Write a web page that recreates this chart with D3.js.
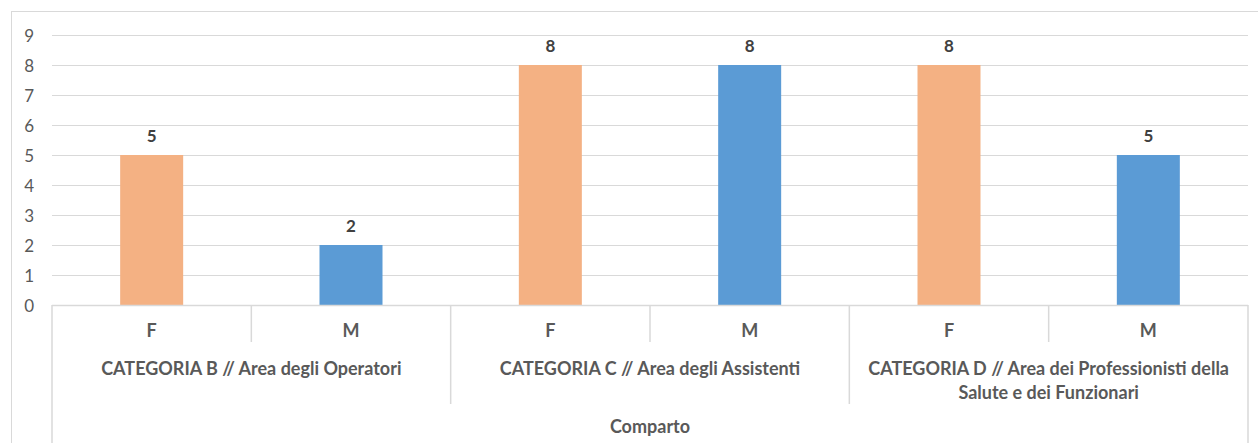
<!DOCTYPE html>
<html>
<head>
<meta charset="utf-8">
<script src="https://cdn.jsdelivr.net/npm/d3@7"></script>
<style>
  html, body { margin: 0; padding: 0; background: #fff; }
  svg { display: block; }
  text { font-family: Lato, "Open Sans", "Liberation Sans", sans-serif; }
</style>
</head>
<body>
<svg id="chart" width="1258" height="443"></svg>
<script>
// Personale del Comparto per categoria e genere
const groups = [
  ["CATEGORIA B // Area degli Operatori"],
  ["CATEGORIA C // Area degli Assistenti"],
  ["CATEGORIA D // Area dei Professionisti della", "Salute e dei Funzionari"]
];
const genders = ["F", "M"];
const values = [5, 2, 8, 8, 8, 5];
const yTicks = [0, 1, 2, 3, 4, 5, 6, 7, 8, 9];
const axisTitle = "Comparto";
const colors = { F: "#F4B183", M: "#5B9BD5" };

(function () {
const svg = d3.select("#chart");
const W = 1258, H = 443;
const plotLeft = 52, plotRight = 1248, plotTop = 35, base = 305;
const FONT = "Lato, 'Open Sans', 'Liberation Sans', sans-serif";

// outer chart frame
svg.append("rect")
  .attr("x", 11.5).attr("y", 11.5)
  .attr("width", W + 20).attr("height", H + 20)
  .attr("fill", "none").attr("stroke", "#d9d9d9").attr("stroke-width", 1);

const items = [];
groups.forEach((g, gi) => genders.forEach(s => items.push({ key: gi + "-" + s, g: gi, s })));
items.forEach((d, i) => d.v = values[i]);

const x = d3.scaleBand().domain(items.map(d => d.key)).range([plotLeft, plotRight]).paddingInner(0).paddingOuter(0);
const y = d3.scaleLinear().domain([0, 9]).range([base, plotTop]);

// gridlines
svg.append("g").selectAll("line").data(yTicks.filter(t => t > 0)).join("line")
  .attr("x1", plotLeft).attr("x2", plotRight)
  .attr("y1", d => Math.round(y(d)) + 0.5).attr("y2", d => Math.round(y(d)) + 0.5)
  .attr("stroke", "#d9d9d9").attr("stroke-width", 1);

// y axis labels
const yAxis = d3.axisLeft(y).tickValues(yTicks).tickSize(0).tickPadding(0);
const ya = svg.append("g").attr("transform", `translate(34,0)`).call(yAxis)
  .attr("font-family", FONT).attr("font-size", 17);
ya.select(".domain").remove();
ya.selectAll("text").attr("fill", "#595959").attr("dy", "0.36em");

// bars
const bw = 63;
svg.append("g").selectAll("rect").data(items).join("rect")
  .attr("x", d => x(d.key) + x.bandwidth() / 2 - bw / 2)
  .attr("width", bw)
  .attr("y", d => y(d.v))
  .attr("height", d => y(0) - y(d.v))
  .attr("fill", d => colors[d.s]);

// value labels
svg.append("g").selectAll("text").data(items).join("text")
  .attr("x", d => x(d.key) + x.bandwidth() / 2)
  .attr("y", d => y(d.v) - 13)
  .attr("text-anchor", "middle")
  .attr("font-size", 17).attr("font-weight", 700).attr("fill", "#404040")
  .text(d => d.v);

// category axis: baseline and separators
const axisG = svg.append("g").attr("stroke", "#d9d9d9").attr("stroke-width", 1.5);
axisG.append("line").attr("x1", plotLeft).attr("x2", plotRight).attr("y1", base + 0.5).attr("y2", base + 0.5);
groups.forEach((g, gi) => {
  const xm = x(gi + "-M");
  axisG.append("line").attr("x1", xm).attr("x2", xm).attr("y1", base).attr("y2", 342);
});
[1, 2].forEach(gi => {
  const xg = x(gi + "-F");
  axisG.append("line").attr("x1", xg).attr("x2", xg).attr("y1", base).attr("y2", 404);
});
[plotLeft, plotRight].forEach(xe => {
  axisG.append("line").attr("x1", xe).attr("x2", xe).attr("y1", base).attr("y2", H);
});

// gender labels
svg.append("g").selectAll("text").data(items).join("text")
  .attr("x", d => x(d.key) + x.bandwidth() / 2)
  .attr("y", 337)
  .attr("text-anchor", "middle")
  .attr("font-size", 18).attr("font-weight", 700).attr("fill", "#595959")
  .text(d => d.s);

// group labels
groups.forEach((lines, gi) => {
  const cx = (x(gi + "-F") + x(gi + "-M") + x.bandwidth()) / 2;
  const t = svg.append("text").attr("text-anchor", "middle")
    .attr("font-size", 18).attr("font-weight", 700).attr("fill", "#595959");
  lines.forEach((ln, li) => {
    t.append("tspan").attr("x", cx).attr("y", 375 + li * 24).text(ln);
  });
});

// axis title
svg.append("text").attr("x", (plotLeft + plotRight) / 2).attr("y", 433)
  .attr("text-anchor", "middle")
  .attr("font-size", 18).attr("font-weight", 700).attr("fill", "#595959")
  .text(axisTitle);
})();
</script>
</body>
</html>
